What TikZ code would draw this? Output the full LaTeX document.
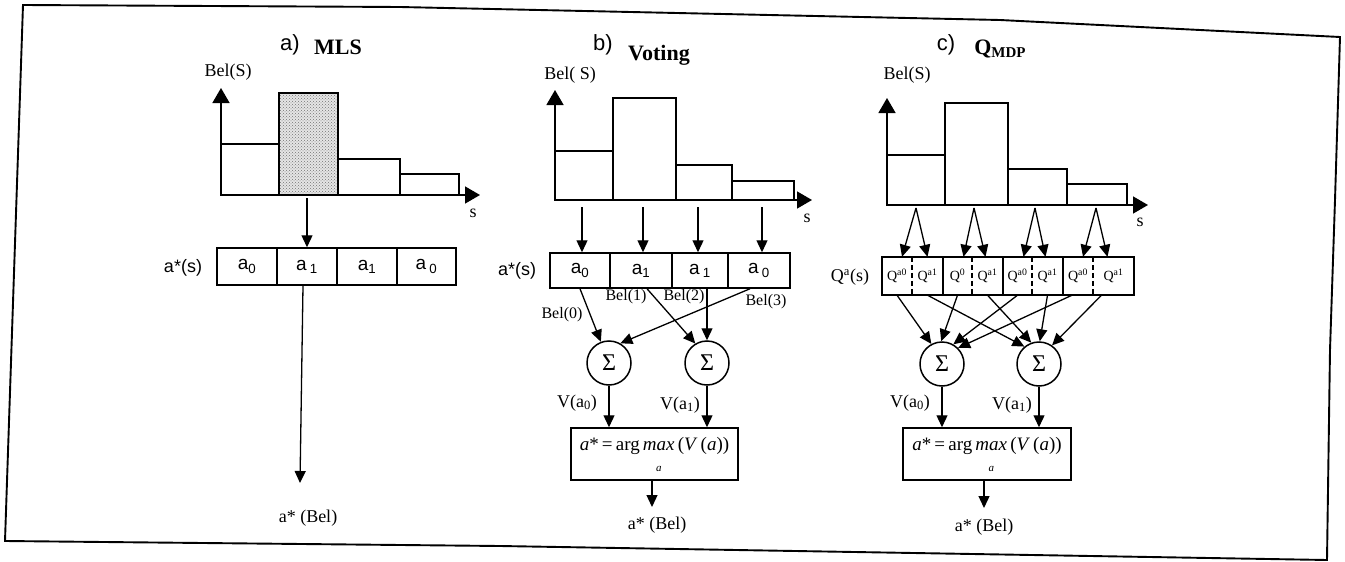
\documentclass[tikz,border=0pt]{standalone}
\usepackage{fontspec}
\setmainfont{Liberation Serif}
\setsansfont{Liberation Sans}
\usetikzlibrary{arrows.meta,calc,patterns}
\newlength{\mxw}
\newcommand{\argmaxtxt}{\settowidth{\mxw}{\itshape max}\textit{a}*\,=\,arg\,\vtop{\hbox{\itshape max}\kern2pt\hbox to \mxw{\hfil\fontsize{11}{11}\selectfont\itshape a\hfil}}\,(\textit{V}\,(\textit{a}))}
\begin{document}
\begin{tikzpicture}[x=1pt,y=-1pt,
  frame/.style={line width=1.9pt},
  lw/.style={line width=1.5pt},
  conn/.style={line width=1.3pt,-{Triangle[length=12pt,width=11pt]}},
  axisarrow/.style={line width=1.5pt,-{Triangle[length=15pt,width=17pt]}},
  barbox/.style={line width=1.5pt},
  lbl/.style={font=\fontsize{18}{18}\selectfont,inner sep=0pt},
  smalllbl/.style={font=\fontsize{16}{16}\selectfont,inner sep=0pt},
  sflbl/.style={font=\sffamily\fontsize{18}{18}\selectfont,inner sep=0pt},
  ttl/.style={font=\sffamily\fontsize{22}{22}\selectfont,anchor=base,inner sep=0pt},
  hd/.style={font=\bfseries\fontsize{22}{22}\selectfont,anchor=base,inner sep=0pt},
  acell/.style={draw,line width=1.5pt,inner sep=0pt,font=\sffamily\fontsize{19}{19}\selectfont},
  qcell/.style={inner sep=0pt,minimum height=38pt,font=\fontsize{14}{14}\selectfont},
  sumnode/.style={draw,circle,line width=1.5pt,minimum size=44pt,inner sep=0pt,font=\fontsize{24}{24}\selectfont},
  maxbox/.style={draw,line width=1.5pt,minimum height=52pt,inner sep=0pt,font=\fontsize{19}{19}\selectfont}
]
\useasboundingbox (0,0) rectangle (1345,562);
\draw[frame] (23,5) -- (400,7) -- (1000,20) -- (1340,37) -- (1335,200) -- (1330,350) -- (1327,560) -- (500,546) -- (5,541) -- cycle;

% ---------------- panel a ----------------
\node[ttl] (ta) at (290,50) {a)};
\node[hd] (ha) at (338,54) {MLS};
\node[lbl] (bela) at (228,72) {Bel(S)};
\coordinate (ao) at (221,195);
\coordinate (ay) at (221,88);
\coordinate (ax) at (480,195);
\draw[barbox] (221,195) rectangle (279,144);
\fill[black!10] (279,195) rectangle (338,93);
\fill[pattern=crosshatch dots,pattern color=black!55] (279,195) rectangle (338,93);
\draw[barbox] (279,195) rectangle (338,93);
\draw[barbox] (338,195) rectangle (400,159);
\draw[barbox] (400,195) rectangle (459,174);
\draw[axisarrow] (ao) -- (ay);
\draw[axisarrow] (ao) -- (ax);
\node[lbl] (sa) at (473,213) {s};
\node[acell,minimum width=60pt,minimum height=37pt] (a1) at (247,266.5) {a\textsubscript{0}};
\node[acell,minimum width=60pt,minimum height=37pt] (a2) at (307,266.5) {a\,\textsubscript{1}};
\node[acell,minimum width=60pt,minimum height=37pt] (a3) at (367,266.5) {a\textsubscript{1}};
\node[acell,minimum width=59pt,minimum height=37pt] (a4) at (426.5,266.5) {a\,\textsubscript{0}};
\node[sflbl] (asl) at (183,268) {a*(s)};
\coordinate (abar) at (307,198);
\draw[conn] (abar) -- (a2.north);
\coordinate (aend) at (300,483);
\draw[conn] ($(a2.south)+(-4,0)$) -- (aend);
\node[lbl] (aout) at (308,518) {a* (Bel)};

% ---------------- panel b ----------------
\node[ttl] (tb) at (603,50) {b)};
\node[hd] (hb) at (659,60) {Voting};
\node[lbl] (belb) at (570,75) {Bel( S)};
\coordinate (bo) at (555,200);
\coordinate (by) at (555,90);
\coordinate (bx) at (812,200);
\draw[barbox] (555,200) rectangle (613,151);
\draw[barbox] (613,200) rectangle (676,98);
\draw[barbox] (676,200) rectangle (732,165);
\draw[barbox] (732,200) rectangle (794,181);
\draw[axisarrow] (bo) -- (by);
\draw[axisarrow] (bo) -- (bx);
\node[lbl] (sb) at (807,218) {s};
\node[acell,minimum width=60pt,minimum height=35pt] (b1) at (580,270.5) {a\textsubscript{0}};
\node[acell,minimum width=62pt,minimum height=35pt] (b2) at (641,270.5) {a\textsubscript{1}\hspace{14pt}};
\node[acell,minimum width=56pt,minimum height=35pt] (b3) at (700,270.5) {a\,\textsubscript{1}\hspace{12pt}};
\node[acell,minimum width=62pt,minimum height=35pt] (b4) at (759,270.5) {a\,\textsubscript{0}\hspace{6pt}};
\node[sflbl] (bsl) at (517,271) {a*(s)};
\coordinate (bt1) at (582,207);
\coordinate (bt2) at (643,207);
\coordinate (bt3) at (698,207);
\coordinate (bt4) at (762,207);
\draw[conn] (bt1) -- (bt1 |- b1.north);
\draw[conn] (bt2) -- (bt2 |- b2.north);
\draw[conn] (bt3) -- (bt3 |- b3.north);
\draw[conn] (bt4) -- (bt4 |- b4.north);
\node[sumnode] (bs1) at (609,363) {Σ};
\node[sumnode] (bs2) at (707,363) {Σ};
\draw[conn] (b1.south) -- (bs1.111);
\draw[conn] ($(b2.south)+(6,0)$) -- (bs2.121);
\draw[conn] ($(b3.south)+(7,0)$) -- (bs2.north);
\draw[conn] ($(b4.south)+(-9,0)$) -- (bs1.60);
\node[smalllbl] (bl0) at (562,315) {Bel(0)};
\node[smalllbl] (bl1) at (626,297) {Bel(1)};
\node[smalllbl] (bl2) at (684,297) {Bel(2)};
\node[smalllbl] (bl3) at (766,302) {Bel(3)};
\node[maxbox,minimum width=167pt] (bbox) at (654.5,454) {\argmaxtxt};
\draw[conn] (bs1.south) -- (bs1.south |- bbox.north);
\draw[conn] (bs2.south) -- (bs2.south |- bbox.north);
\node[lbl] (bv0) at (577,403) {V(a\textsubscript{0})};
\node[lbl] (bv1) at (680,405) {V(a\textsubscript{1})};
\coordinate (bend) at (652,507);
\draw[conn] (bbox.south -| bend) -- (bend);
\node[lbl] (bout) at (657,525) {a* (Bel)};

% ---------------- panel c ----------------
\node[ttl] (tc) at (946,50) {c)};
\node[hd] (hc) at (1000,54) {Q\raisebox{-0.3ex}{\fontsize{15}{15}\selectfont MDP}};
\node[lbl] (belc) at (907,75) {Bel(S)};
\coordinate (co) at (887,205);
\coordinate (cy) at (887,98);
\coordinate (cx) at (1148,205);
\draw[barbox] (887,205) rectangle (945,155);
\draw[barbox] (945,205) rectangle (1008,103);
\draw[barbox] (1008,205) rectangle (1067,169);
\draw[barbox] (1067,205) rectangle (1127,184);
\draw[axisarrow] (co) -- (cy);
\draw[axisarrow] (co) -- (cx);
\node[lbl] (sc) at (1140,222) {s};
\node[qcell,minimum width=30pt] (c1) at (897,276) {Q\textsuperscript{a0}};
\node[qcell,minimum width=31pt] (c2) at (927.5,276) {Q\textsuperscript{a1}};
\node[qcell,minimum width=29pt] (c3) at (957.5,276) {Q\textsuperscript{0}};
\node[qcell,minimum width=31pt] (c4) at (987.5,276) {Q\textsuperscript{a1}};
\node[qcell,minimum width=29pt] (c5) at (1017.5,276) {Q\textsuperscript{a0}};
\node[qcell,minimum width=31pt] (c6) at (1047.5,276) {Q\textsuperscript{a1}};
\node[qcell,minimum width=30pt] (c7) at (1078,276) {Q\textsuperscript{a0}};
\node[qcell,minimum width=41pt] (c8) at (1113.5,276) {Q\textsuperscript{a1}\hspace{10pt}};
\draw[lw] (c1.north west) rectangle (c8.south east);
\draw[lw] (c2.north east) -- (c2.south east);
\draw[lw] (c4.north east) -- (c4.south east);
\draw[lw] (c6.north east) -- (c6.south east);
\draw[lw,dash pattern=on 5pt off 3pt] (c1.north east) -- (c1.south east);
\draw[lw,dash pattern=on 5pt off 3pt] (c3.north east) -- (c3.south east);
\draw[lw,dash pattern=on 5pt off 3pt] (c5.north east) -- (c5.south east);
\draw[lw,dash pattern=on 5pt off 3pt] (c7.north east) -- (c7.south east);
\node[lbl] (csl) at (850,277) {Q\textsuperscript{a}(s)};
\coordinate (cb1) at (916,208);
\coordinate (cb2) at (974,208);
\coordinate (cb3) at (1035,208);
\coordinate (cb4) at (1096,208);
\draw[conn] (cb1) -- ($(c1.north)+(5,0)$);
\draw[conn] (cb1) -- ($(c2.north)+(0,0)$);
\draw[conn] (cb2) -- ($(c3.north)+(6,0)$);
\draw[conn] (cb2) -- ($(c4.north)+(-2,0)$);
\draw[conn] (cb3) -- ($(c5.north)+(6,0)$);
\draw[conn] (cb3) -- ($(c6.north)+(-2,0)$);
\draw[conn] (cb4) -- ($(c7.north)+(5,0)$);
\draw[conn] (cb4) -- ($(c8.north)+(-6,0)$);
\node[sumnode] (cs1) at (942,364) {Σ};
\node[sumnode] (cs2) at (1039,364) {Σ};
\draw[conn] (c1.south) -- (cs1.118);
\draw[conn] (c3.south) -- (cs1.92);
\draw[conn] (c5.south) -- (cs1.60);
\draw[conn] ($(c7.south)+(-6,0)$) -- (cs1.45);
\draw[conn] (c2.south) -- (cs2.130);
\draw[conn] (c4.south) -- (cs2.110);
\draw[conn] (c6.south) -- (cs2.88);
\draw[conn] ($(c8.south)+(-12,0)$) -- (cs2.55);
\node[maxbox,minimum width=168pt] (cbox) at (987,454) {\argmaxtxt};
\draw[conn] (cs1.south) -- (cs1.south |- cbox.north);
\draw[conn] (cs2.south) -- (cs2.south |- cbox.north);
\node[lbl] (cv0) at (910,403) {V(a\textsubscript{0})};
\node[lbl] (cv1) at (1012,405) {V(a\textsubscript{1})};
\coordinate (cend) at (984,508);
\draw[conn] (cbox.south -| cend) -- (cend);
\node[lbl] (cout) at (984,527) {a* (Bel)};
\end{tikzpicture}
\end{document}
